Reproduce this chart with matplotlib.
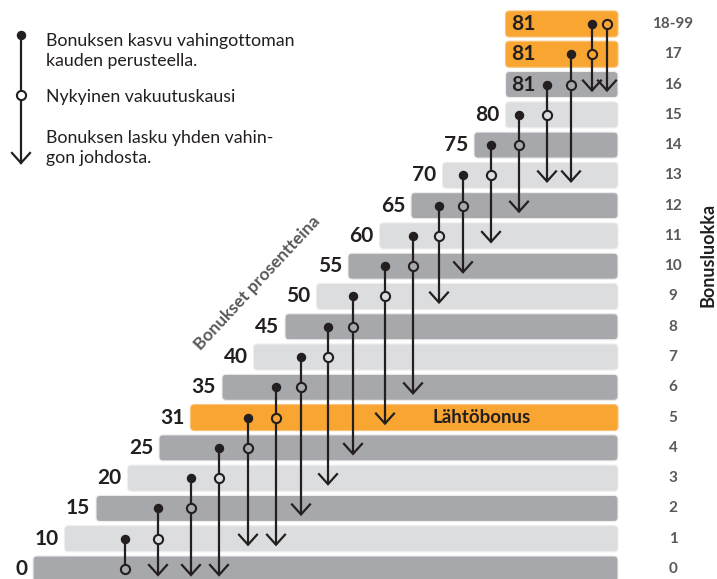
import matplotlib
matplotlib.use('Agg')
import matplotlib.pyplot as plt
from matplotlib.patches import FancyBboxPatch

plt.rcParams['font.family'] = ['Lato', 'DejaVu Sans']

# ---------------- data ----------------
class_labels = ['0', '1', '2', '3', '4', '5', '6', '7', '8', '9', '10', '11',
                '12', '13', '14', '15', '16', '17', '18-99']
bonus_pct = [0, 10, 15, 20, 25, 31, 35, 40, 45, 50, 55, 60, 65, 70, 75, 80, 81, 81, 81]
next_class_no_claim = [1, 2, 3, 4, 5, 6, 7, 8, 9, 10, 11, 12, 13, 14, 15, 16, 17, 18, 18]
next_class_one_claim = [0, 0, 0, 0, 1, 1, 2, 3, 4, 5, 6, 9, 10, 11, 12, 13, 13, 16, 16]
highlight_classes = [5, 17, 18]
start_class_text = 'Lähtöbonus'
legend_texts = ['Bonuksen kasvu vahingottoman\nkauden perusteella.',
                'Nykyinen vakuutuskausi',
                'Bonuksen lasku yhden vahin-\ngon johdosta.']
axis_title_right = 'Bonusluokka'
axis_title_diag = 'Bonukset prosentteina'

# ---------------- layout / style ----------------
W, H = 717, 579
ROW_PX = 30.28
ROW0_PX = 569
DARK = '#a7a8ab'
LIGHT = '#dcdddf'
ORANGE = '#f8a532'
INK = '#231f20'
GREYTXT = '#58595b'
BAR_RIGHT = 618
BAR_H = 0.86
STEP_X = 31.5
BAR_X0 = 33
col_x = [125, 158, 191, 219, 248, 276, 301, 328, 353, 385, 413, 439, 463, 491,
         519, 547, 571, 592, 607]

fig = plt.figure(figsize=(W / 100, H / 100), dpi=100)
ax = fig.add_axes([0, 0, 1, 1])
ax.set_xlim(0, W)
ax.set_ylim((ROW0_PX - H) / ROW_PX, ROW0_PX / ROW_PX)
ax.axis('off')

px_y = 1.0 / ROW_PX  # one pixel in row units
n = len(class_labels)


def row_color(i):
    if i in highlight_classes:
        return ORANGE
    return DARK if i % 2 == 0 else LIGHT


# bars
for i in range(n):
    left = BAR_X0 + STEP_X * min(i, 15)
    col = row_color(i)
    edge = '#fbc27a' if col == ORANGE else '#eeeeef'
    p = FancyBboxPatch((left, i - BAR_H / 2), BAR_RIGHT - left, BAR_H,
                       boxstyle='round,pad=0,rounding_size=4',
                       mutation_aspect=px_y, facecolor=col,
                       edgecolor=edge, linewidth=0.8, zorder=1)
    ax.add_patch(p)
    if i < 16:
        ax.text(left - 6, i, str(bonus_pct[i]), ha='right', va='center',
                fontsize=15, fontweight='bold', color=INK, zorder=5)
    else:
        ax.text(left + 6, i, str(bonus_pct[i]), ha='left', va='center',
                fontsize=15, fontweight='bold', color=INK, zorder=5)
    ax.text(673, i, class_labels[i], ha='center', va='center',
            fontsize=11, fontweight='bold', color=GREYTXT)

ax.text(482, 5, start_class_text,
        ha='center', va='center', fontsize=13.5, fontweight='bold', color=INK, zorder=5)

LW = 1.6
HEAD_W = 9
HEAD_H = 10 * px_y
TIP_OFF = 6 * px_y

for c in range(n):
    x = col_x[c]
    up = next_class_no_claim[c]
    down = next_class_one_claim[c]
    top = up
    if down < c:
        tip = down - TIP_OFF
        ax.plot([x, x], [top, tip], color=INK, lw=LW, zorder=3,
                solid_capstyle='butt')
        ax.plot([x - HEAD_W, x, x + HEAD_W], [tip + HEAD_H, tip, tip + HEAD_H],
                color=INK, lw=LW, zorder=3, solid_joinstyle='miter')
    else:
        ax.plot([x, x], [top, c], color=INK, lw=LW, zorder=3)
    if up != c:
        ax.plot([x], [up], marker='o', ms=5.8, color=INK, mec=INK, zorder=4)
    ax.plot([x], [c], marker='o', ms=6.6, mfc=row_color(c), mec=INK,
            mew=1.5, zorder=4)

# overlay axes in pixel coordinates for legend and titles
lax = fig.add_axes([0, 0, 1, 1])
lax.set_xlim(0, W)
lax.set_ylim(H, 0)
lax.axis('off')
lax.patch.set_alpha(0)

lx = 21
lax.plot([lx, lx], [35, 163], color=INK, lw=LW, zorder=3)
lax.plot([lx - HEAD_W, lx, lx + HEAD_W], [153, 163, 153], color=INK, lw=LW,
         zorder=3, solid_joinstyle='miter')
lax.plot([lx], [35], marker='o', ms=5.8, color=INK, zorder=4)
lax.plot([lx], [95], marker='o', ms=6.6, mfc='white', mec=INK, mew=1.5, zorder=4)

lax.text(46, 51, legend_texts[0], ha='left', va='center', fontsize=12.8,
         color=INK, linespacing=1.3)
lax.text(46, 97, legend_texts[1], ha='left', va='center', fontsize=12.8,
         color=INK)
lax.text(46, 148, legend_texts[2], ha='left', va='center', fontsize=12.8,
         color=INK, linespacing=1.3)

lax.text(708, 255, axis_title_right, ha='center', va='center', rotation=90,
         fontsize=13, fontweight='bold', color=INK)
lax.text(257, 283, axis_title_diag, ha='center', va='center', rotation=47,
         fontsize=12.5, fontweight='bold', color=GREYTXT, rotation_mode='anchor')

fig.savefig('out.png', dpi=100)
